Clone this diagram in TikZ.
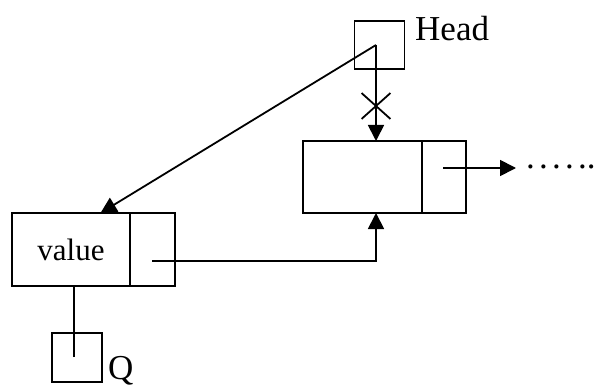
\documentclass[tikz,border=0pt]{standalone}
\usepackage{fontspec}
\setmainfont{Liberation Serif}
\newfontfamily\dotfont[LetterSpace=12]{Liberation Serif}
\usepackage{tikz}
\usetikzlibrary{arrows.meta,positioning,shapes.misc,calc}
\tikzset{
  cell/.style={rectangle, draw=black, fill=white, line width=1.8pt, outer sep=0pt, inner sep=0pt,
               minimum height=72pt, font=\fontsize{31}{36}\selectfont},
  ptrbox/.style={cell, minimum width=50pt, minimum height=48pt},
  lbl/.style={inner sep=0pt, font=\fontsize{35}{40}\selectfont},
  flow/.style={-{Triangle[length=16pt,width=16pt]}, draw=black, line width=1.8pt},
  link/.style={draw=black, line width=1.8pt},
  cutmark/.style={cross out, draw=black, line width=1.8pt, minimum width=27pt, minimum height=24pt, inner sep=0pt}
}
\begin{document}
\begin{tikzpicture}[x=1pt, y=-1pt]
  \useasboundingbox (0,0) rectangle (596,387);
  \node[ptrbox] (head) at (379.5,45) {};
  \node[lbl, anchor=base west] (headlbl) at (415,41) {Head};
  \node[cell, minimum width=119pt] (nxdata) at (362.5,177) {};
  \node[cell, minimum width=44pt, right=0pt of nxdata] (nxnext) {};
  \node[cell, minimum width=118pt, minimum height=73pt] (valdata) at (71,249.5) {value};
  \node[cell, minimum width=45pt, minimum height=73pt, right=0pt of valdata] (valnext) {};
  \node[ptrbox, minimum height=49pt] (q) at (77,357.5) {};
  \node[lbl, anchor=base west] (qlbl) at (108,379) {Q};
  \coordinate (headptr) at (376,45);
  \coordinate (nxptr) at (443,168);
  \coordinate (valptr) at (152,261);
  \coordinate (qptr) at (74,357);
  \node[lbl, anchor=base west] (more) at (526,169) {{\dotfont\fontsize{35}{40}\selectfont .....}.};
  \node[cutmark] (cut) at (headptr |- 0,106) {};
  \draw[flow] (headptr) -- ($(valdata.north west)!0.75!(valdata.north east)$);
  \draw[flow] (headptr) -- (headptr |- nxdata.north);
  \draw[flow] (nxptr) -- (516,168);
  \draw[flow] (valptr) -| (headptr |- nxdata.south);
  \draw[link] (qptr) -- (qptr |- valdata.south);
\end{tikzpicture}
\end{document}
